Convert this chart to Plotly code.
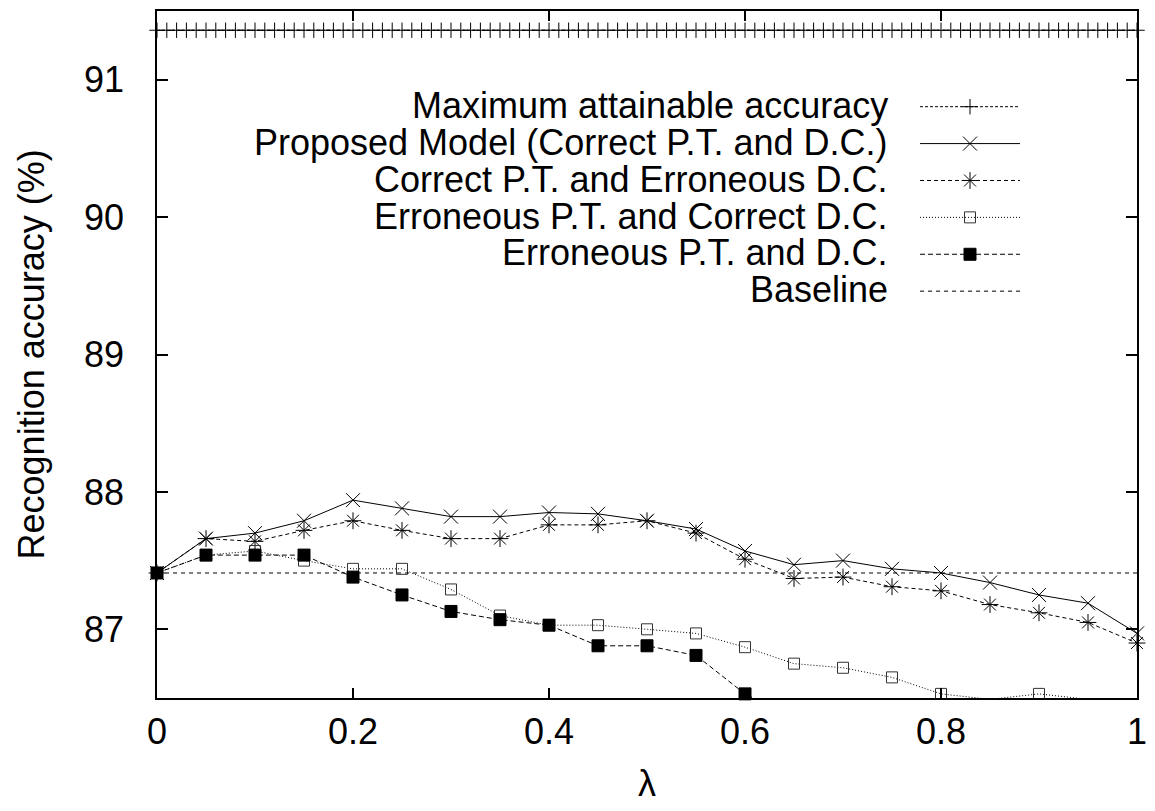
import plotly.graph_objects as go

# ---------------- data ----------------
lam = [0.0, 0.05, 0.1, 0.15, 0.2, 0.25, 0.3, 0.35, 0.4, 0.45, 0.5,
       0.55, 0.6, 0.65, 0.7, 0.75, 0.8, 0.85, 0.9, 0.95, 1.0]

proposed = [87.41, 87.66, 87.70, 87.79, 87.94, 87.88, 87.82, 87.82, 87.85, 87.84, 87.79,
            87.73, 87.57, 87.47, 87.50, 87.44, 87.41, 87.34, 87.25, 87.19, 86.97]
correct_pt_err_dc = [87.41, 87.66, 87.64, 87.72, 87.79, 87.72, 87.66, 87.66, 87.76, 87.76, 87.79,
                     87.70, 87.51, 87.37, 87.38, 87.31, 87.28, 87.18, 87.12, 87.05, 86.90]
err_pt_correct_dc = [87.41, 87.54, 87.57, 87.50, 87.44, 87.44, 87.29, 87.10, 87.03, 87.03, 87.00,
                     86.97, 86.87, 86.75, 86.72, 86.65, 86.53, 86.49, 86.53, 86.49, 86.45]
err_pt_err_dc = [87.41, 87.54, 87.54, 87.54, 87.38, 87.25, 87.13, 87.07, 87.03, 86.88, 86.88,
                 86.81, 86.53, 86.35, 86.30, 86.25, 86.20, 86.15, 86.10, 86.05, 86.00]

max_lam = [i / 100 for i in range(101)]
max_acc = [91.36] * len(max_lam)

baseline_lam = [0.0, 1.0]
baseline_acc = [87.41, 87.41]

x_ticks = [0, 0.2, 0.4, 0.6, 0.8, 1]
x_ticklabels = ["0", "0.2", "0.4", "0.6", "0.8", "1"]
y_ticks = [87, 88, 89, 90, 91]
y_ticklabels = ["87", "88", "89", "90", "91"]

names = ["Maximum attainable accuracy",
         "Proposed Model (Correct P.T. and D.C.)",
         "Correct P.T. and Erroneous D.C.",
         "Erroneous P.T. and Correct D.C.",
         "Erroneous P.T. and D.C.",
         "Baseline"]

# ---------------- styles ----------------
YMIN, YMAX = 86.5, 91.5
FONT = "Liberation Sans, Arial, Helvetica, sans-serif"
FS = 36
BLACK = "#000000"

styles = [
    dict(dash="3px,2px", symbol="cross-thin-open", size=11, mcolor=BLACK),
    dict(dash="solid", symbol="x-thin-open", size=14, mcolor=BLACK),
    dict(dash="4px,3px", symbol="asterisk-open", size=14, mcolor=BLACK),
    dict(dash="1px,2px", symbol="square-open", size=11, mcolor="#333333"),
    dict(dash="5px,3px", symbol="square", size=12, mcolor=BLACK),
    dict(dash="4px,4px", symbol=None, size=0, mcolor=BLACK),
]

series = [
    (max_lam, max_acc),
    (lam, proposed),
    (lam, correct_pt_err_dc),
    (lam, err_pt_correct_dc),
    (lam, err_pt_err_dc),
    (baseline_lam, baseline_acc),
]

fig = go.Figure()

for (xs, ys), st, nm in zip(series, styles, names):
    fig.add_trace(go.Scatter(x=xs, y=ys, mode="lines", name=nm, showlegend=False,
                             line=dict(color=BLACK, width=1, dash=st["dash"]),
                             hoverinfo="skip"))
    if st["symbol"]:
        sizes = [st["size"] if (YMIN <= v <= YMAX) else 0 for v in ys]
        fig.add_trace(go.Scatter(
            x=xs, y=ys, mode="markers", showlegend=False, cliponaxis=False,
            marker=dict(symbol=st["symbol"], size=sizes, color=st["mcolor"], opacity=1,
                        line=dict(color=st["mcolor"], width=1)),
            hoverinfo="skip"))

# ---------------- manual gnuplot-style key ----------------
key_text_x = 0.748
key_x0, key_xc, key_x1 = 0.7786, 0.8296, 0.8806
key_y0 = 0.8607
key_dy = 0.0537

annotations = []
for i, (st, nm) in enumerate(zip(styles, names)):
    yy = key_y0 - i * key_dy
    annotations.append(dict(x=key_text_x, y=yy + 0.002, xref="paper", yref="paper",
                            xanchor="right", yanchor="middle", showarrow=False,
                            text=nm, font=dict(family=FONT, size=FS, color=BLACK)))
    fig.add_trace(go.Scatter(x=[key_x0, key_x1], y=[yy, yy], mode="lines",
                             xaxis="x2", yaxis="y2", showlegend=False,
                             line=dict(color=BLACK, width=1, dash=st["dash"]),
                             hoverinfo="skip", cliponaxis=False))
    if st["symbol"]:
        fig.add_trace(go.Scatter(x=[key_xc], y=[yy], mode="markers",
                                 xaxis="x2", yaxis="y2", showlegend=False, cliponaxis=False,
                                 marker=dict(symbol=st["symbol"], size=st["size"],
                                             color=st["mcolor"], opacity=1,
                                             line=dict(color=st["mcolor"], width=1)),
                                 hoverinfo="skip"))

# axis titles
annotations.append(dict(x=0.5, y=-0.125, xref="paper", yref="paper",
                        xanchor="center", yanchor="middle", showarrow=False,
                        text="λ", font=dict(family=FONT, size=FS, color=BLACK)))
annotations.append(dict(x=-0.1276, y=0.5, xref="paper", yref="paper",
                        xanchor="center", yanchor="middle", showarrow=False, textangle=-90,
                        text="Recognition accuracy (%)",
                        font=dict(family=FONT, size=FS, color=BLACK)))

axis_common = dict(showgrid=False, zeroline=False, showline=True, linecolor=BLACK,
                   linewidth=1.5, mirror="ticks", ticks="inside", tickcolor=BLACK,
                   tickwidth=1.5, tickfont=dict(family=FONT, size=FS, color=BLACK))

# the page body adds an 8px offset; the figure is shrunk to compensate
fig.update_layout(
    width=1147, height=803,
    margin=dict(l=149, r=18, t=1, b=113),
    paper_bgcolor="white", plot_bgcolor="white",
    showlegend=False,
    xaxis=dict(range=[0, 1], tickvals=x_ticks, ticktext=x_ticklabels, ticklen=10,
               ticklabelstandoff=1, **axis_common),
    yaxis=dict(range=[YMIN, YMAX], tickvals=y_ticks, ticktext=y_ticklabels, ticklen=11,
               ticklabelstandoff=24, **axis_common),
    xaxis2=dict(range=[0, 1], overlaying="x", anchor="y2", visible=False, fixedrange=True),
    yaxis2=dict(range=[0, 1], overlaying="y", anchor="x2", visible=False, fixedrange=True),
    annotations=annotations,
)

fig.write_html("out.html")
